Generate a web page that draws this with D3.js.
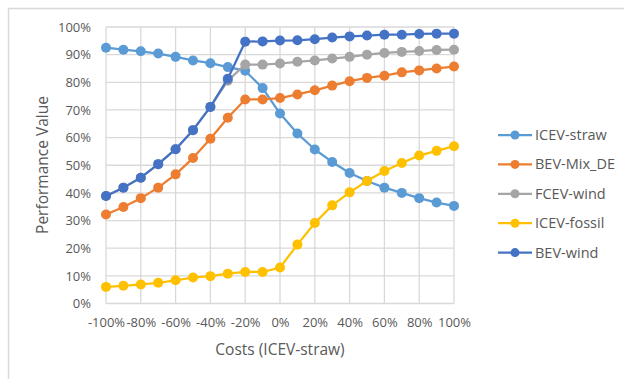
<!DOCTYPE html>
<html>
<head>
<meta charset="utf-8">
<script src="https://cdn.jsdelivr.net/npm/d3@7/dist/d3.min.js"></script>
<style>
  html, body { margin: 0; padding: 0; background: #fff; }
  svg { display: block; }
  text { font-family: "Open Sans", "Liberation Sans", sans-serif; fill: #595959; }
</style>
</head>
<body>
<svg id="chart" width="624" height="379"></svg>
<script>
// Cost change of ICEV-straw (x axis, percent)
const costs = [-100, -90, -80, -70, -60, -50, -40, -30, -20, -10, 0, 10, 20, 30, 40, 50, 60, 70, 80, 90, 100];

// Performance values (percent) per powertrain
const icevStraw = [92.5, 91.8, 91.2, 90.4, 89.2, 87.9, 86.9, 85.5, 84.2, 77.9, 68.7, 61.5, 55.7, 51.2, 47.2, 44.3, 41.9, 40.0, 38.1, 36.5, 35.3];
const bevMixDE  = [32.2, 34.9, 38.1, 41.9, 46.7, 52.6, 59.6, 67.2, 73.8, 73.8, 74.3, 75.6, 77.1, 78.8, 80.4, 81.6, 82.4, 83.6, 84.3, 85.0, 85.7];
const fcevWind  = [38.9, 41.9, 45.5, 50.4, 55.8, 62.7, 71.1, 80.6, 86.4, 86.4, 86.8, 87.4, 87.9, 88.6, 89.2, 90.0, 90.6, 91.0, 91.3, 91.7, 91.8];
const icevFossil = [6.0, 6.4, 6.9, 7.5, 8.4, 9.4, 9.9, 10.8, 11.4, 11.4, 13.0, 21.3, 29.1, 35.5, 40.2, 44.3, 47.9, 50.8, 53.5, 55.2, 56.9];
const bevWind   = [38.9, 41.9, 45.5, 50.4, 55.8, 62.7, 71.1, 81.3, 94.7, 94.8, 95.1, 95.2, 95.6, 96.2, 96.6, 96.9, 97.2, 97.2, 97.5, 97.6, 97.6];

const seriesNames = ["ICEV-straw", "BEV-Mix_DE", "FCEV-wind", "ICEV-fossil", "BEV-wind"];
const seriesValues = [icevStraw, bevMixDE, fcevWind, icevFossil, bevWind];
const seriesColors = ["#5B9BD5", "#ED7D31", "#A5A5A5", "#FFC000", "#4472C4"];

const xTicks = [-100, -80, -60, -40, -20, 0, 20, 40, 60, 80, 100];
const yTicks = [0, 10, 20, 30, 40, 50, 60, 70, 80, 90, 100];

const svg = d3.select("#chart");

// outer chart frame
svg.append("rect")
  .attr("x", 8.5).attr("y", 8.5)
  .attr("width", 640).attr("height", 400)
  .attr("fill", "#fff").attr("stroke", "#D9D9D9").attr("stroke-width", 1.5);

const x = d3.scaleLinear().domain([-100, 100]).range([106, 454]);
const y = d3.scaleLinear().domain([0, 100]).range([303.5, 27]);

// gridlines
const grid = svg.append("g");
grid.selectAll("line.h").data(yTicks).join("line")
  .attr("x1", x(-100)).attr("x2", x(100))
  .attr("y1", d => y(d)).attr("y2", d => y(d))
  .attr("stroke", "#D9D9D9").attr("stroke-width", 1.3);
grid.selectAll("line.v").data(xTicks).join("line")
  .attr("y1", y(0)).attr("y2", y(100))
  .attr("x1", d => x(d)).attr("x2", d => x(d))
  .attr("stroke", "#D9D9D9").attr("stroke-width", 1.3);

// axes (labels only, Excel style)
const yAxis = svg.append("g")
  .attr("transform", `translate(${x(-100)},0)`)
  .call(d3.axisLeft(y).tickValues(yTicks).tickSize(0).tickPadding(15).tickFormat(d => d + "%"));
yAxis.select(".domain").remove();
yAxis.selectAll("text").style("font-size", "13px").attr("fill", "#595959")
  .style("font-family", "'Open Sans', 'Liberation Sans', sans-serif");

const xAxis = svg.append("g")
  .attr("transform", `translate(0,${y(0)})`)
  .call(d3.axisBottom(x).tickValues(xTicks).tickSize(0).tickPadding(14).tickFormat(d => d + "%"));
xAxis.select(".domain").remove();
xAxis.selectAll("text").style("font-size", "13px").attr("fill", "#595959")
  .style("font-family", "'Open Sans', 'Liberation Sans', sans-serif");

// axis titles
svg.append("text")
  .attr("x", 280).attr("y", 355)
  .attr("text-anchor", "middle")
  .style("font-size", "15.5px")
  .text("Costs (ICEV-straw)");

svg.append("text")
  .attr("transform", `translate(48,165) rotate(-90)`)
  .attr("text-anchor", "middle")
  .style("font-size", "15.5px")
  .text("Performance Value");

// series lines and markers
const line = d3.line().x((d, i) => x(costs[i])).y(d => y(d));
seriesValues.forEach((vals, k) => {
  const g = svg.append("g");
  g.append("path")
    .attr("d", line(vals))
    .attr("fill", "none")
    .attr("stroke", seriesColors[k])
    .attr("stroke-width", 2.25)
    .attr("stroke-linejoin", "round");
  g.selectAll("circle").data(vals).join("circle")
    .attr("cx", (d, i) => x(costs[i]))
    .attr("cy", d => y(d))
    .attr("r", 5)
    .attr("fill", seriesColors[k]);
});

// legend
const legend = svg.append("g");
seriesNames.forEach((name, k) => {
  const ly = 135 + k * 29.4;
  legend.append("line")
    .attr("x1", 498).attr("x2", 532)
    .attr("y1", ly).attr("y2", ly)
    .attr("stroke", seriesColors[k]).attr("stroke-width", 2.25);
  legend.append("circle")
    .attr("cx", 515).attr("cy", ly).attr("r", 4.5)
    .attr("fill", seriesColors[k]);
  legend.append("text")
    .attr("x", 535).attr("y", ly)
    .attr("dy", "0.35em")
    .style("font-size", "14.5px")
    .text(name);
});
</script>
</body>
</html>
